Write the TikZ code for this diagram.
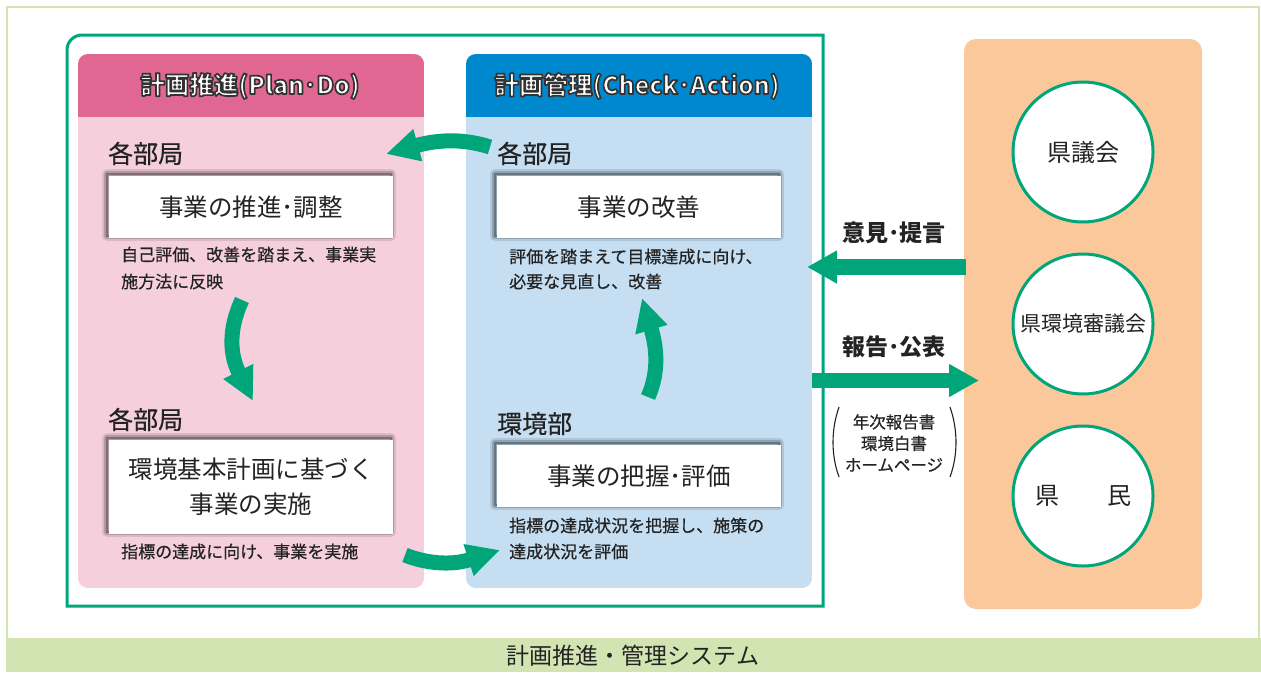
\documentclass[tikz,border=0pt]{standalone}
\usepackage{fontspec}
\setmainfont{Noto Sans CJK JP}
\newfontfamily\jpmed{Noto Sans CJK JP}[FakeBold=0.5]
\usetikzlibrary{arrows.meta}
\definecolor{grn}{RGB}{0,166,122}
\definecolor{lgrn}{RGB}{210,228,178}
\definecolor{pinkH}{RGB}{224,103,146}
\definecolor{pinkB}{RGB}{245,208,220}
\definecolor{blueH}{RGB}{0,136,206}
\definecolor{blueB}{RGB}{197,222,242}
\definecolor{orng}{RGB}{251,200,155}
\definecolor{txt}{RGB}{35,35,35}
\newcommand{\olText}[1]{\textcolor{white}{\special{pdf:literal direct 0.2 0.2 0.2 RG 1.7 w 1 j 2 Tr}#1\special{pdf:literal direct 0 Tr}}}
\tikzset{
  shadowed/.style={
    preaction={draw=black, opacity=0.10, line width=10pt, line join=round, transform canvas={shift={(-2pt,2pt)}}},
    preaction={draw=black, opacity=0.18, line width=6pt, line join=round, transform canvas={shift={(-2pt,2pt)}}},
    preaction={draw=black, opacity=0.28, line width=2.5pt, transform canvas={shift={(-2pt,2pt)}}}},
  wbox/.style={shadowed, fill=white, inner sep=0pt, minimum width=284pt, text=txt,
    font=\fontsize{24.5}{35}\selectfont, align=center},
  hdr/.style={font=\bfseries\fontsize{24.5}{24.5}\selectfont, inner sep=0pt},
  lbl/.style={anchor=base west, inner sep=0pt, text=txt, font=\jpmed\fontsize{25}{25}\selectfont},
  desc/.style={anchor=base west, inner sep=0pt, text=txt, font=\jpmed\fontsize{17}{17}\selectfont},
  circ/.style={circle, draw=grn, line width=3pt, fill=white, minimum size=140pt, inner sep=0pt, text=txt},
  carr/.style={draw=grn, line width=15pt, -{Triangle[length=33pt,width=31pt]}},
  sarr/.style={draw=grn, line width=16pt, -{Triangle[length=30pt,width=31pt]}},
  alab/.style={text=txt, inner sep=0pt, font=\bfseries\fontsize{23}{23}\selectfont},
}
\begin{document}
\begin{tikzpicture}[x=1pt,y=-1pt]
\useasboundingbox (0,0) rectangle (1261,672);
\fill[white] (0,0) rectangle (1261,672);
% outer frame and bottom band
\draw[lgrn, line width=2.5pt] (7,640) -- (7,7) -- (1259,7) -- (1259,640);
\fill[lgrn] (6,638) rectangle (1261,672);
\node[text=txt, inner sep=0pt, font=\fontsize{23}{23}\selectfont] (sys) at (633,656) {計画推進・管理システム};
% green frame
\draw[grn, line width=3pt] (67,606) -- (67,50) .. controls (67,41.7) and (73.7,35) .. (82,35) -- (823,35) -- (823,606) -- cycle;
% pink panel
\begin{scope}
\clip[rounded corners=10pt] (78,54) rectangle (424,588);
\fill[pinkB] (78,54) rectangle (424,588);
\fill[pinkH] (78,54) rectangle (424,117);
\end{scope}
% blue panel
\begin{scope}
\clip[rounded corners=10pt] (466,54) rectangle (812,588);
\fill[blueB] (466,54) rectangle (812,588);
\fill[blueH] (466,54) rectangle (812,117);
\end{scope}
% orange panel
\fill[orng, rounded corners=12pt] (964,39) rectangle (1202,609);
% headers
\node[hdr] (hp) at (250,86) {\olText{計画推進(Plan･Do)}};
\node[hdr] (hc) at (637,86) {\olText{計画管理(Check･Action)}};
% left column
\node[lbl] (l1) at (108,163) {各部局};
\node[wbox, minimum height=62pt] (b1) at (251,207) {事業の推進･調整};
\node[desc] (d1a) at (121,261) {自己評価、改善を踏まえ、事業実};
\node[desc] (d1b) at (121,288) {施方法に反映};
\node[lbl] (l2) at (108,429) {各部局};
\node[wbox, minimum height=94pt] (b2) at (251,487) {環境基本計画に基づく\\事業の実施};
\node[desc] (d2) at (121,558) {指標の達成に向け、事業を実施};
% right column
\node[lbl] (l3) at (497,163) {各部局};
\node[wbox, minimum height=62pt] (b3) at (639,207) {事業の改善};
\node[desc] (d3a) at (509,263) {評価を踏まえて目標達成に向け、};
\node[desc] (d3b) at (509,288) {必要な見直し、改善};
\node[lbl] (l4) at (497,433) {環境部};
\node[wbox, minimum height=62pt] (b4) at (639,476) {事業の把握･評価};
\node[desc] (d4a) at (509,532) {指標の達成状況を把握し、施策の};
\node[desc] (d4b) at (509,558) {達成状況を評価};
% curved arrows
\coordinate (t1) at (490,147); \coordinate (t2) at (386,154);
\draw[carr] (t1) .. controls (465,139) and (440,139) .. (t2);
\coordinate (p1) at (242,300); \coordinate (p2) at (253,401);
\draw[carr] (p1) .. controls (228,330) and (230,355) .. (p2);
\coordinate (q1) at (405,555); \coordinate (q2) at (500,550);
\draw[carr] (q1) .. controls (425,563) and (450,566) .. (q2);
\coordinate (u1) at (648,397); \coordinate (u2) at (642,298);
\draw[carr] (u1) .. controls (660,370) and (656,345) .. (u2);
% circles
\node[circ, font=\fontsize{24}{24}\selectfont] (c1) at (1083,152) {県議会};
\node[circ, font=\fontsize{21}{21}\selectfont] (c2) at (1083,324) {県環境審議会};
\node[circ, font=\fontsize{24}{24}\selectfont] (c3) at (1083,496) {県　　民};
% straight arrows
\coordinate (s1) at (966,267); \coordinate (s2) at (807,267);
\draw[sarr] (s1) -- (s2);
\coordinate (r1) at (812,380.5); \coordinate (r2) at (979,380.5);
\draw[sarr, line width=15pt] (r1) -- (r2);
\node[alab] (op) at (894,233) {意見･提言};
\node[alab] (rp) at (894,347) {報告･公表};
\node[text=txt, inner sep=0pt, align=center, font=\jpmed\fontsize{16.5}{21.5}\selectfont] (pub) at (894,443) {年次報告書\\環境白書\\ホームページ};
\draw[txt, line width=1.1pt] (839,407) .. controls (831,430) and (831,455) .. (839,477);
\draw[txt, line width=1.1pt] (950,407) .. controls (958,430) and (958,455) .. (950,477);
\end{tikzpicture}
\end{document}
